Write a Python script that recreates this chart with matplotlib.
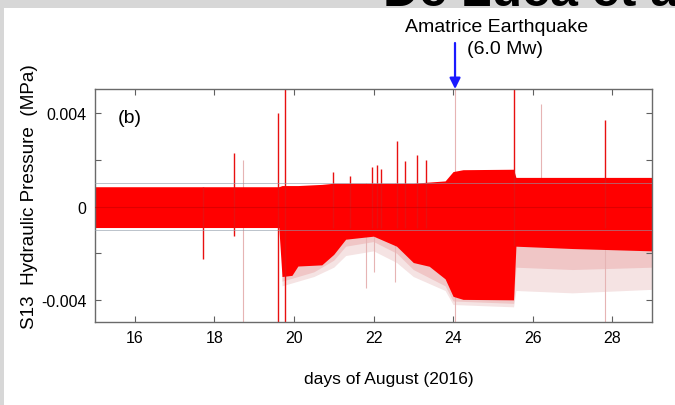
import numpy as np
import matplotlib
matplotlib.use("Agg")
import matplotlib.pyplot as plt
from matplotlib.patches import Rectangle

plt.rcParams['font.family'] = ['Liberation Sans', 'DejaVu Sans']

# ---- data (pressure in units of 1e-3 MPa, time in days of August 2016) ----
band_days  = [15.0, 19.62, 19.70, 19.95, 20.1, 20.7, 21.0, 21.3, 22.0, 22.58, 23.0, 23.4, 23.8, 24.0, 24.25, 25.52, 25.58, 27.0, 29.0]
band_upper = [0.85, 0.85, 0.90, 0.90, 0.90, 0.95, 1.00, 1.00, 1.00, 1.00, 1.00, 1.05, 1.10, 1.50, 1.58, 1.60, 1.25, 1.25, 1.25]
band_lower = [-0.90, -0.90, -3.00, -2.95, -2.55, -2.50, -2.05, -1.40, -1.27, -1.70, -2.40, -2.56, -3.10, -3.85, -3.98, -4.00, -1.70, -1.80, -1.90]

fuzz_days  = [19.7, 20.5, 21.0, 21.3, 22.0, 22.58, 23.0, 23.8, 24.0, 25.52, 25.58, 27.0, 29.0]
fuzz_mid   = [-3.2, -2.8, -2.3, -1.7, -1.5, -2.0, -2.7, -3.4, -4.05, -4.15, -2.60, -2.70, -2.60]
fuzz_low   = [-3.4, -3.0, -2.6, -2.1, -1.9, -2.4, -3.0, -3.6, -4.20, -4.30, -3.60, -3.70, -3.55]

spike_days   = [17.71, 18.50, 19.61, 19.77, 20.98, 21.40, 21.95, 22.10, 22.20, 22.58, 22.80, 23.10, 23.33, 25.53, 27.82]
spike_top    = [0.85, 2.30, 4.00, 5.10, 1.50, 1.30, 1.70, 1.80, 1.60, 2.80, 1.94, 2.20, 2.00, 5.10, 3.70]
spike_bottom = [-2.27, -1.27, -5.00, -5.00, -0.9, -0.9, -0.9, -0.9, -0.9, -0.9, -0.9, -0.9, -0.9, -1.7, -0.9]

faint_days   = [18.71, 21.80, 22.00, 22.55, 24.06, 26.20, 27.82]
faint_top    = [2.00, 1.0, 1.0, 1.0, 5.10, 4.40, 1.0]
faint_bottom = [-5.00, -3.50, -2.80, -3.25, -5.00, -1.0, -5.00]

x_ticks = [16, 18, 20, 22, 24, 26, 28]
y_ticks = [-4, -2, 0, 2, 4]
y_ticklabels = ['-0.004', '', '0', '', '0.004']

quake_day = 24.05

scale = 1e-3
W, H = 675, 406
fig = plt.figure(figsize=(W / 100, H / 100), dpi=100)
fig.patch.set_facecolor('#d7d7d7')
bg = Rectangle((4 / W, 0), 1 - 4 / W, 1 - 9 / H, transform=fig.transFigure,
               facecolor='white', edgecolor='none', zorder=-10)
fig.patches.append(bg)

ax = fig.add_axes([95 / W, (H - 323) / H, (652 - 95) / W, (323 - 90) / H])
ax.set_zorder(5)
ax.set_facecolor('white')
ymin, ymax = -4.95 * scale, 5.04 * scale
ax.set_xlim(15, 29)
ax.set_ylim(ymin, ymax)

fd = np.array(fuzz_days)
ax.fill_between(fd, np.array(fuzz_low) * scale, 0, color='#f5e3e3', lw=0, zorder=1)
ax.fill_between(fd, np.array(fuzz_mid) * scale, 0, color='#f0c6c6', lw=0, zorder=1.1)

ax.vlines(faint_days, np.array(faint_bottom) * scale, np.array(faint_top) * scale,
          color='#e6b4b4', lw=0.8, zorder=1.5)

ax.fill_between(band_days, np.array(band_lower) * scale, np.array(band_upper) * scale,
                color='#ff0000', lw=0, zorder=2)
ax.vlines(spike_days, np.array(spike_bottom) * scale, np.array(spike_top) * scale,
          color='#e81010', lw=1.0, zorder=2.5)

ax.axhline(1 * scale, color='#8f9aa8', lw=0.7, alpha=0.6, zorder=3)
ax.axhline(-1 * scale, color='#8f9aa8', lw=0.7, alpha=0.6, zorder=3)
ax.axhline(0, color='#c00000', lw=0.8, alpha=0.5, zorder=3)

ax.set_xticks(x_ticks)
ax.set_xticklabels([str(t) for t in x_ticks])
ax.set_yticks(np.array(y_ticks) * scale)
ax.set_yticklabels(y_ticklabels)
ax.tick_params(direction='in', top=True, right=True, length=4, width=0.8,
               color='#606060', labelsize=11.5, pad=6)
for s in ax.spines.values():
    s.set_color('#6a6a6a')
    s.set_linewidth(1.0)

ax.text(15.58, 3.8 * scale, '(b)', fontsize=14, ha='left', va='center')

fig.text(389 / W, 1 - 380 / H, 'days of August (2016)', fontsize=12.5, ha='center', va='center')
fig.text(30 / W, 1 - 197 / H, 'S13  Hydraulic Pressure  (MPa)', fontsize=13.6,
         rotation=90, ha='center', va='center')

fig.text(497 / W, 1 - 28 / H, 'Amatrice Earthquake', fontsize=14, ha='center', va='center')
fig.text(505 / W, 1 - 50 / H, '(6.0 Mw)', fontsize=14, ha='center', va='center')
ax.annotate('', xy=(quake_day, ymax), xycoords='data',
            xytext=(455 / W, 1 - 44 / H), textcoords='figure fraction',
            arrowprops=dict(arrowstyle='-|>', color='#1a1aff', lw=1.6,
                            mutation_scale=16, shrinkA=0, shrinkB=0),
            annotation_clip=False)

fig.text(383 / W, 1 - 6 / H, 'De Luca et al.', fontsize=36, fontweight='bold',
         ha='left', va='baseline', color='black')

fig.savefig('out.png', dpi=100, facecolor=fig.get_facecolor())
